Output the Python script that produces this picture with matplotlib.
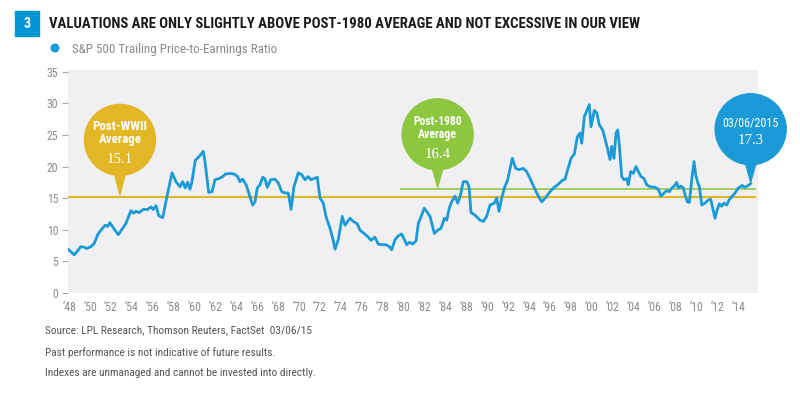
import numpy as np
import matplotlib.pyplot as plt
from matplotlib.patches import Circle, Polygon, Rectangle

NARROW = ["Roboto Condensed", "Liberation Sans Narrow", "Roboto", "DejaVu Sans"]
SERIF = ["Liberation Serif", "DejaVu Serif"]
plt.rcParams['font.family'] = NARROW

# S&P 500 trailing P/E (x in axis years, one label per 2 years)
years = [1947.95, 1948.48, 1949.12, 1949.44, 1949.67, 1950.08, 1950.39, 1950.72, 1951.03, 1951.44,
         1951.67, 1951.89, 1952.25, 1952.69, 1953.11, 1953.43, 1953.90, 1954.16, 1954.38, 1954.70,
         1955.08, 1955.50, 1955.82, 1956.04, 1956.30, 1956.56, 1956.94, 1957.32, 1957.83, 1958.21,
         1958.59, 1958.85, 1959.10, 1959.33, 1959.55, 1959.74, 1960.06, 1960.44, 1960.82, 1961.01,
         1961.34, 1961.66, 1961.94, 1962.35, 1962.68, 1962.93, 1963.38, 1963.79, 1964.11, 1964.33,
         1964.59, 1964.95, 1965.29, 1965.55, 1965.77, 1965.99, 1966.25, 1966.51, 1966.73, 1966.95,
         1967.27, 1967.68, 1968.00, 1968.33, 1968.64, 1968.96, 1969.22, 1969.50, 1969.91, 1970.24,
         1970.56, 1970.87, 1971.13, 1971.42, 1971.73, 1971.99, 1972.31, 1972.56, 1972.95, 1973.21,
         1973.43, 1973.74, 1974.12, 1974.38, 1974.86, 1975.18, 1975.56, 1975.82, 1976.20, 1976.61,
         1976.87, 1977.25, 1977.57, 1977.99, 1978.31, 1978.62, 1978.85, 1979.17, 1979.48, 1979.81,
         1980.29, 1980.54, 1980.86, 1981.18, 1981.40, 1981.72, 1981.97, 1982.52, 1982.93, 1983.25,
         1983.57, 1983.89, 1984.12, 1984.36, 1984.59, 1984.91, 1985.17, 1985.39, 1985.70, 1986.03,
         1986.25, 1986.44, 1986.82, 1987.30, 1987.62, 1987.94, 1988.26, 1988.67, 1988.90, 1989.12,
         1989.38, 1989.63, 1989.95, 1990.39, 1990.72, 1991.03, 1991.44, 1991.77, 1992.09, 1992.50,
         1992.88, 1993.21, 1993.59, 1994.00, 1994.41, 1994.79, 1995.18, 1995.44, 1995.69, 1996.01,
         1996.33, 1996.61, 1996.87, 1997.03, 1997.28, 1997.76, 1997.92, 1998.24, 1998.47, 1998.72,
         1999.04, 1999.42, 1999.74, 1999.90, 2000.12, 2000.32, 2000.48, 2000.63, 2000.86, 2001.08,
         2001.34, 2001.49, 2001.72, 2001.97, 2002.23, 2002.45, 2002.71, 2002.99, 2003.25, 2003.57,
         2004.05, 2004.36, 2004.62, 2004.91, 2005.17, 2005.42, 2005.65, 2005.89, 2006.12, 2006.28,
         2006.51, 2006.76, 2006.92, 2007.14, 2007.33, 2007.56, 2007.78, 2007.94, 2008.10, 2008.29,
         2008.52, 2008.83, 2009.15, 2009.38, 2009.57, 2009.79, 2009.95, 2010.20, 2010.43, 2010.65,
         2010.91, 2011.13, 2011.39, 2011.70, 2012.02, 2012.40, 2012.59, 2012.88, 2013.20]
pe_ratio = [6.8, 6.0, 7.3, 7.2, 7.0, 7.3, 7.8, 9.2, 9.9, 10.7,
            10.5, 11.1, 10.2, 9.2, 10.2, 11.0, 13.0, 12.6, 12.9, 12.7,
            13.2, 13.2, 13.6, 13.2, 13.8, 12.2, 11.9, 15.0, 19.0, 17.6,
            16.8, 17.6, 16.6, 17.5, 16.4, 17.6, 21.0, 21.6, 22.4, 20.5,
            15.9, 16.0, 17.9, 18.1, 18.4, 18.8, 18.9, 18.8, 18.4, 17.6,
            18.0, 17.0, 15.2, 13.9, 14.4, 16.6, 17.1, 18.3, 18.0, 16.7,
            17.9, 18.0, 17.4, 16.0, 15.8, 15.8, 13.2, 16.8, 19.0, 18.7,
            17.9, 18.4, 17.9, 18.1, 18.3, 15.0, 14.2, 12.1, 10.2, 8.6,
            6.9, 8.4, 12.1, 10.7, 11.8, 11.3, 10.9, 9.9, 9.4, 8.8,
            8.3, 8.8, 7.7, 7.6, 7.6, 7.3, 6.8, 8.4, 9.0, 9.3,
            7.6, 8.0, 7.7, 8.2, 11.0, 12.3, 13.4, 12.1, 9.4, 9.9,
            10.2, 11.8, 11.5, 13.4, 14.4, 15.3, 14.2, 15.2, 17.6, 17.6,
            16.8, 12.7, 12.3, 11.5, 11.3, 12.1, 13.9, 14.2, 15.0, 12.9,
            15.0, 16.6, 17.9, 21.3, 19.7, 19.5, 19.7, 19.2, 18.1, 16.6,
            15.3, 14.4, 15.1, 16.0, 16.7, 17.2, 17.8, 18.0, 19.5, 21.3,
            22.0, 24.7, 25.3, 23.7, 27.9, 29.8, 26.3, 28.9, 28.5, 26.6,
            25.8, 23.4, 21.1, 23.2, 21.3, 25.3, 25.8, 23.4, 18.4, 17.9,
            18.1, 17.1, 19.2, 18.9, 20.0, 19.2, 18.4, 18.1, 17.1, 16.8,
            16.7, 16.4, 15.3, 15.8, 16.2, 16.0, 16.6, 16.9, 17.5, 16.6,
            16.9, 16.6, 15.5, 14.4, 14.3, 17.9, 20.8, 18.7, 17.6, 16.8,
            13.9, 14.2, 14.7, 14.8, 13.4, 11.8, 12.9, 14.1, 13.7, 14.2,
            13.9, 14.7, 15.2, 15.8, 16.6, 17.0, 16.7, 16.9, 17.3]

tick_labels = ["\u201948", "\u201950", "\u201952", "\u201954", "\u201956", "\u201958", "\u201960",
               "\u201962", "\u201964", "\u201966", "\u201968", "\u201970", "\u201972", "\u201974",
               "\u201976", "\u201978", "\u201980", "\u201982", "\u201984", "\u201988", "\u201990",
               "\u201992", "\u201994", "\u201996", "\u201998", "\u201900", "\u201902", "\u201904",
               "\u201906", "\u201908", "\u201910", "\u201912", "\u201914"]

post_wwii_avg = 15.1
post_1980_avg = 16.4
post_1980_start = 1979.6
avg_end = 2013.68
last_label = "03/06/2015"

BLUE = "#1a9ad6"
GOLD = "#e3b625"
GREEN = "#8dc63f"

fig = plt.figure(figsize=(8, 3.97), dpi=100)
ax = fig.add_axes([68 / 800, 104 / 397, 690 / 800, 223 / 397])
ax.set_facecolor("#f0f0f2")

ax.hlines(post_wwii_avg, 1947.88, avg_end, color=GOLD, lw=1.5, zorder=2)
ax.hlines(post_1980_avg, post_1980_start, avg_end, color=GREEN, lw=1.1, zorder=2)
ax.plot(years, pe_ratio, color=BLUE, lw=2.0, solid_joinstyle="round", zorder=3)

ax.set_xlim(1947.88, 2013.9)
ax.set_ylim(-0.05, 35.3)
ax.set_yticks(np.arange(0, 36, 5))
ax.set_xticks(1948 + 2 * np.arange(len(tick_labels)))
ax.set_xticklabels(tick_labels)
for s in ax.spines.values():
    s.set_visible(False)
ax.tick_params(axis="y", length=4, width=0.8, color="#aaaaaa", labelcolor="#8a8a8a",
               labelsize=8.5, pad=3)
ax.tick_params(axis="x", length=0, labelcolor="#8a8a8a", labelsize=8.5, pad=6)

# overlay in pixel units for the header, footer and callouts
ov = fig.add_axes([0, 0, 1, 1], zorder=5)
ov.set_xlim(0, 800)
ov.set_ylim(397, 0)
ov.axis("off")
renderer = fig.canvas.get_renderer()


def fit(t, width):
    # shrink/grow a text so it spans the same pixel width as in the reference
    w = t.get_window_extent(renderer).width
    t.set_fontsize(t.get_fontsize() * width / w)
    return t


def to_px(x, y):
    dx, dy = ax.transData.transform((x, y))
    return dx, 397 - dy


ov.add_patch(Rectangle((15, 11), 24, 25, color="#0096d6"))
ov.text(27, 24, "3", color="white", fontsize=10, fontweight="bold", ha="center", va="center")
fit(ov.text(49, 24, "VALUATIONS ARE ONLY SLIGHTLY ABOVE POST-1980 AVERAGE AND NOT EXCESSIVE IN OUR VIEW",
            fontsize=10, fontweight="bold", color="#1a1a1a", ha="left", va="center"), 592)
ov.add_patch(Circle((55, 48), 3.8, color=BLUE))
fit(ov.text(72, 50, "S&P 500 Trailing Price-to-Earnings Ratio", fontsize=9, color="#8a8a8a",
            ha="left", va="center"), 206)

foot = ["Source: LPL Research, Thomson Reuters, FactSet  03/06/15",
        "Past performance is not indicative of future results.",
        "Indexes are unmanaged and cannot be invested into directly."]
for txt, yy, w in zip(foot, [330, 352.5, 373.5], [269, 231, 272]):
    fit(ov.text(45, yy, txt, fontsize=9, color="#555555", ha="left", va="center"), w)


def callout(tip, lift, color, head, head_w, head_offs, weight, value, value_off):
    tx, ty = tip
    cx, cy = tx, ty - lift
    r = 35.5
    ov.add_patch(Polygon([(cx - 6.5, cy + r - 6), (cx + 6.5, cy + r - 6), (tx, ty)], color=color))
    ov.add_patch(Circle((cx, cy), r, color=color))
    size = None
    for txt, off in zip(head, head_offs):
        t = ov.text(cx, cy + off, txt, color="white", fontsize=10, fontweight=weight,
                    ha="center", va="center")
        if size is None:
            size = fit(t, head_w).get_fontsize()
        t.set_fontsize(size)
    fit(ov.text(cx, cy + value_off, "%.1f" % value, color="white", fontsize=11, family=SERIF,
                ha="center", va="center"), 26)


callout(to_px(1952.85, post_wwii_avg + 0.4), 55, GOLD, ["Post-WWII", "Average"], 55,
        [-13.5, -0.5], "bold", post_wwii_avg, 20)
callout(to_px(1983.25, post_1980_avg + 0.3), 53, GREEN, ["Post-1980", "Average"], 49,
        [-12.5, 0], "bold", post_1980_avg, 20)
callout(to_px(years[-1], pe_ratio[-1] + 0.2), 53, BLUE, [last_label], 56,
        [-6], "normal", pe_ratio[-1], 11.5)

fig.savefig("out.png", dpi=100)
